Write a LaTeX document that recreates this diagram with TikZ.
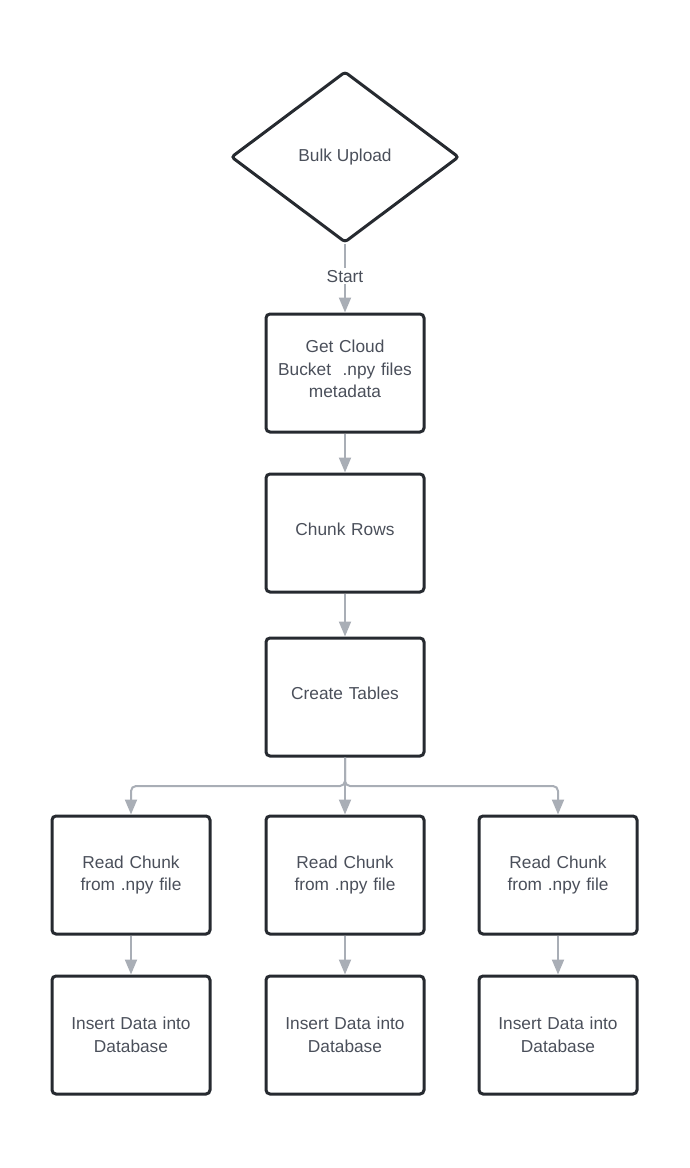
\documentclass[tikz,border=0pt]{standalone}
\usepackage{fontspec}
\setmainfont{Liberation Sans}
\usetikzlibrary{shapes.geometric,arrows.meta}
\definecolor{edgegray}{HTML}{A9AEB6}
\definecolor{txtgray}{HTML}{4A4F5A}
\definecolor{boxline}{HTML}{262A30}
\begin{document}
\begin{tikzpicture}[x=1pt,y=-1pt,
  stepbox/.style={draw=boxline,line width=3pt,rounded corners=4pt,minimum width=158pt,minimum height=118pt,align=center,text=txtgray,font=\fontsize{17.3}{22.5}\selectfont,text width=150pt},
  raised/.style={text depth=8pt},
  decbox/.style={draw=boxline,line width=3pt,diamond,aspect=1.34,minimum width=228pt,minimum height=171pt,text=txtgray,font=\fontsize{17.3}{22.5}\selectfont,inner sep=0pt,rounded corners=3pt},
  conn/.style={draw=edgegray,line width=2pt,-{Triangle[width=12pt,length=15pt]}},
  lbl/.style={fill=white,text=txtgray,font=\fontsize{17.3}{22.5}\selectfont,inner sep=2pt}]
\useasboundingbox (0,0) rectangle (689,1168);
\node[decbox] (bu) at (345,157) {Bulk Upload};
\node[stepbox,text depth=53pt] (gc) at (345,373) {Get Cloud\\Bucket\ \ .npy files\\metadata};
\node[stepbox,raised] (cr) at (345,533) {Chunk Rows};
\node[stepbox,raised] (ct) at (345,697) {Create Tables};
\node[stepbox] (r1) at (131,875) {Read Chunk\\from .npy file};
\node[stepbox] (r2) at (345,875) {Read Chunk\\from .npy file};
\node[stepbox] (r3) at (558,875) {Read Chunk\\from .npy file};
\node[stepbox] (i1) at (131,1035) {Insert Data into\\Database};
\node[stepbox] (i2) at (345,1035) {Insert Data into\\Database};
\node[stepbox] (i3) at (558,1035) {Insert Data into\\Database};
\coordinate (br) at (345,786);
\draw[conn] (bu.south) -- node[lbl,pos=0.47] {Start} (gc.north);
\draw[conn] (gc) -- (cr);
\draw[conn] (cr) -- (ct);
\draw[conn] (ct.south) -- (r2.north);
\draw[conn,rounded corners=5pt] (ct.south) -- (br) -| (r1.north);
\draw[conn,rounded corners=5pt] (ct.south) -- (br) -| (r3.north);
\draw[conn] (r1) -- (i1);
\draw[conn] (r2) -- (i2);
\draw[conn] (r3) -- (i3);
\end{tikzpicture}
\end{document}
